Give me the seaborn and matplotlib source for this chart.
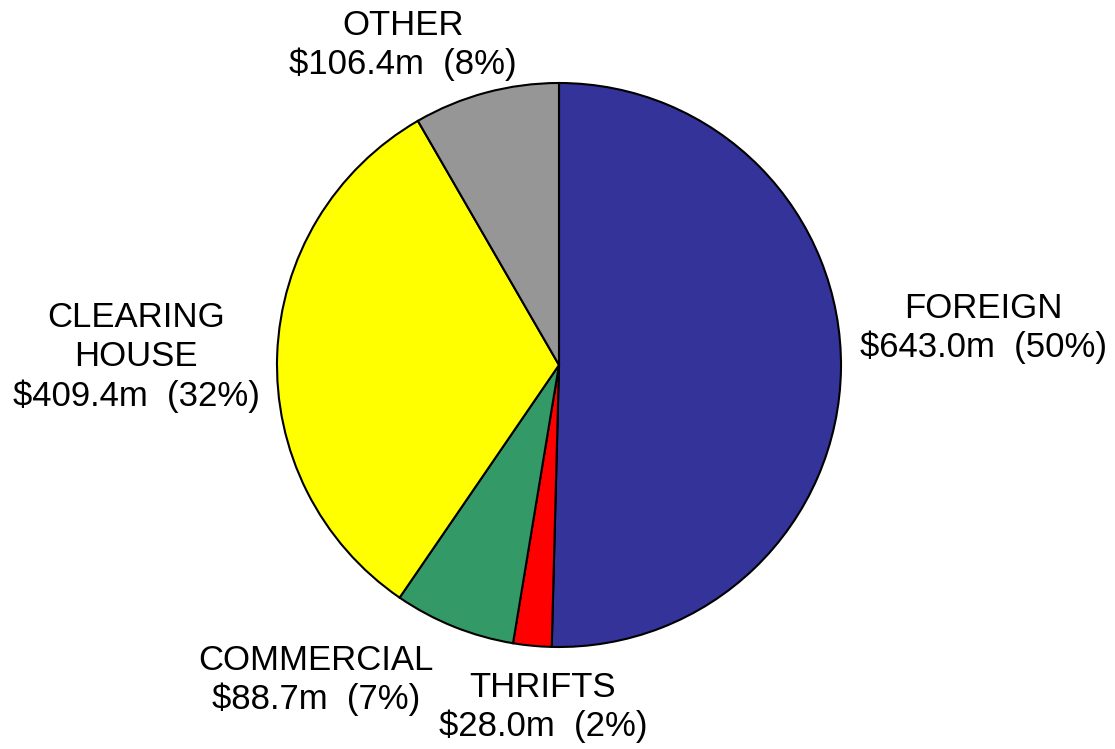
import matplotlib
matplotlib.use("Agg")
import matplotlib.pyplot as plt
import seaborn as sns

sns.set_theme(style="white")
plt.rcParams['font.family'] = ['Liberation Sans', 'DejaVu Sans']

categories = ["FOREIGN", "THRIFTS", "COMMERCIAL", "CLEARING\nHOUSE", "OTHER"]
values = [643.0, 28.0, 88.7, 409.4, 106.4]
percents = [50, 2, 7, 32, 8]
colors = ["#333399", "#FF0000", "#339966", "#FFFF00", "#969696"]

fig = plt.figure(figsize=(11.15, 7.49), dpi=100)
fig.patch.set_facecolor("white")
ax = fig.add_axes([277/1115, (749-647)/749, 564/1115, 564/749])
ax.pie(values, colors=colors, startangle=90, counterclock=False, radius=1,
       wedgeprops=dict(edgecolor="black", linewidth=1.5))
ax.set_xlim(-1, 1)
ax.set_ylim(-1, 1)
ax.set_aspect("equal")
ax.axis("off")

def px(x, y):
    return (x - 559) / 282, (365 - y) / 282

label_pos = [(983, 328), (543, 707), (316, 680), (136, 357), (403, 45)]
for cat, v, p, (x, y) in zip(categories, values, percents, label_pos):
    dx, dy = px(x, y)
    ax.text(dx, dy, f"{cat}\n${v:.1f}m  ({p}%)", ha="center", va="center",
            fontsize=25, linespacing=1.22, clip_on=False, color="black")

fig.savefig("out.png", dpi=100, facecolor="white")
